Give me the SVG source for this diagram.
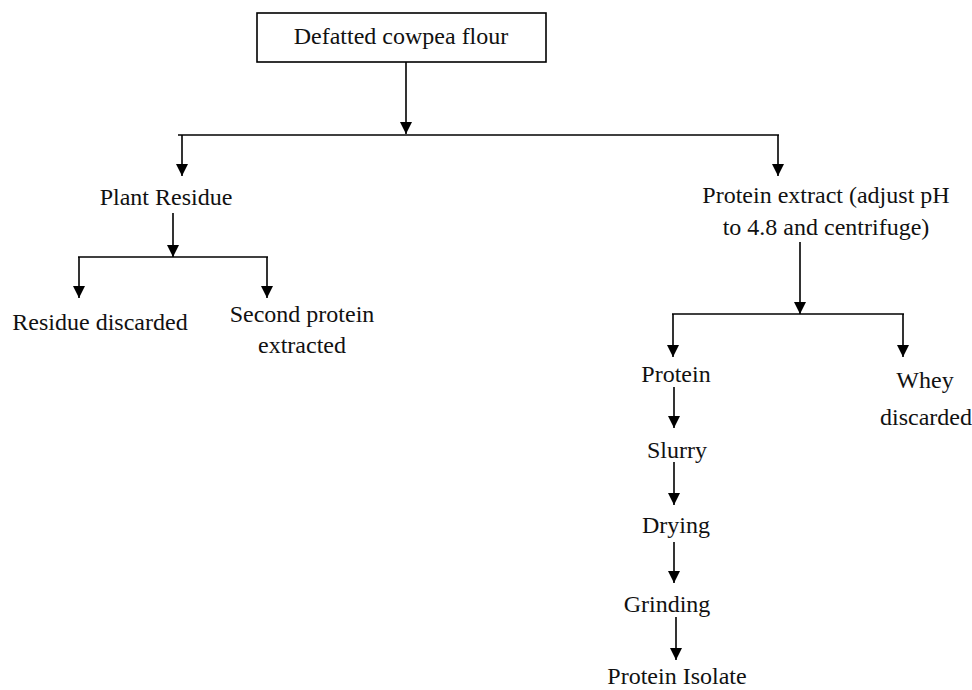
<svg xmlns="http://www.w3.org/2000/svg" width="972" height="690" viewBox="0 0 972 690">
<defs>
<marker id="ah" markerUnits="userSpaceOnUse" markerWidth="12" markerHeight="14" refX="12" refY="6" orient="auto">
<path d="M0,0 L12,6 L0,12 Z" fill="#000"/>
</marker>
<style>
text{font-family:"Liberation Serif","Times New Roman",serif;font-size:24px;fill:#111;text-anchor:middle}
.c line{stroke:#000;stroke-width:1.6}
.c line.a{marker-end:url(#ah)}
</style>
</defs>
<rect width="972" height="690" fill="#fff"/>
<g id="connectors" class="c">
<line class="a" x1="406" y1="62" x2="406" y2="134"/>
<line x1="178" y1="135" x2="779" y2="135"/>
<line class="a" x1="182" y1="135" x2="182" y2="176"/>
<line class="a" x1="778" y1="135" x2="778" y2="176"/>
<line class="a" x1="173" y1="213" x2="173" y2="257"/>
<line x1="78" y1="257" x2="268" y2="257"/>
<line class="a" x1="79" y1="257" x2="79" y2="298"/>
<line class="a" x1="267" y1="257" x2="267" y2="298"/>
<line class="a" x1="800" y1="242" x2="800" y2="314"/>
<line x1="672" y1="314" x2="904" y2="314"/>
<line class="a" x1="673" y1="314" x2="673" y2="357"/>
<line class="a" x1="903" y1="314" x2="903" y2="357"/>
<line class="a" x1="674" y1="387" x2="674" y2="428"/>
<line class="a" x1="674" y1="462" x2="674" y2="505"/>
<line class="a" x1="674" y1="542" x2="674" y2="583"/>
<line class="a" x1="676" y1="617" x2="676" y2="660"/>
</g>
<g id="n-flour">
<rect x="257" y="13" width="289" height="49" fill="#fff" stroke="#000" stroke-width="1.6"/>
<text x="401" y="44">Defatted cowpea flour</text>
</g>
<g id="n-plant-residue"><text x="166" y="205">Plant Residue</text></g>
<g id="n-residue-discarded"><text x="100" y="330">Residue discarded</text></g>
<g id="n-second-protein"><text x="302" y="322">Second protein</text><text x="302" y="353">extracted</text></g>
<g id="n-protein-extract"><text x="826" y="203">Protein extract (adjust pH</text><text x="826" y="235">to 4.8 and centrifuge)</text></g>
<g id="n-protein"><text x="676" y="382">Protein</text></g>
<g id="n-whey"><text x="925" y="388">Whey</text><text x="926" y="425">discarded</text></g>
<g id="n-slurry"><text x="677" y="458">Slurry</text></g>
<g id="n-drying"><text x="676" y="533">Drying</text></g>
<g id="n-grinding"><text x="667" y="612">Grinding</text></g>
<g id="n-isolate"><text x="677" y="684">Protein Isolate</text></g>
</svg>
